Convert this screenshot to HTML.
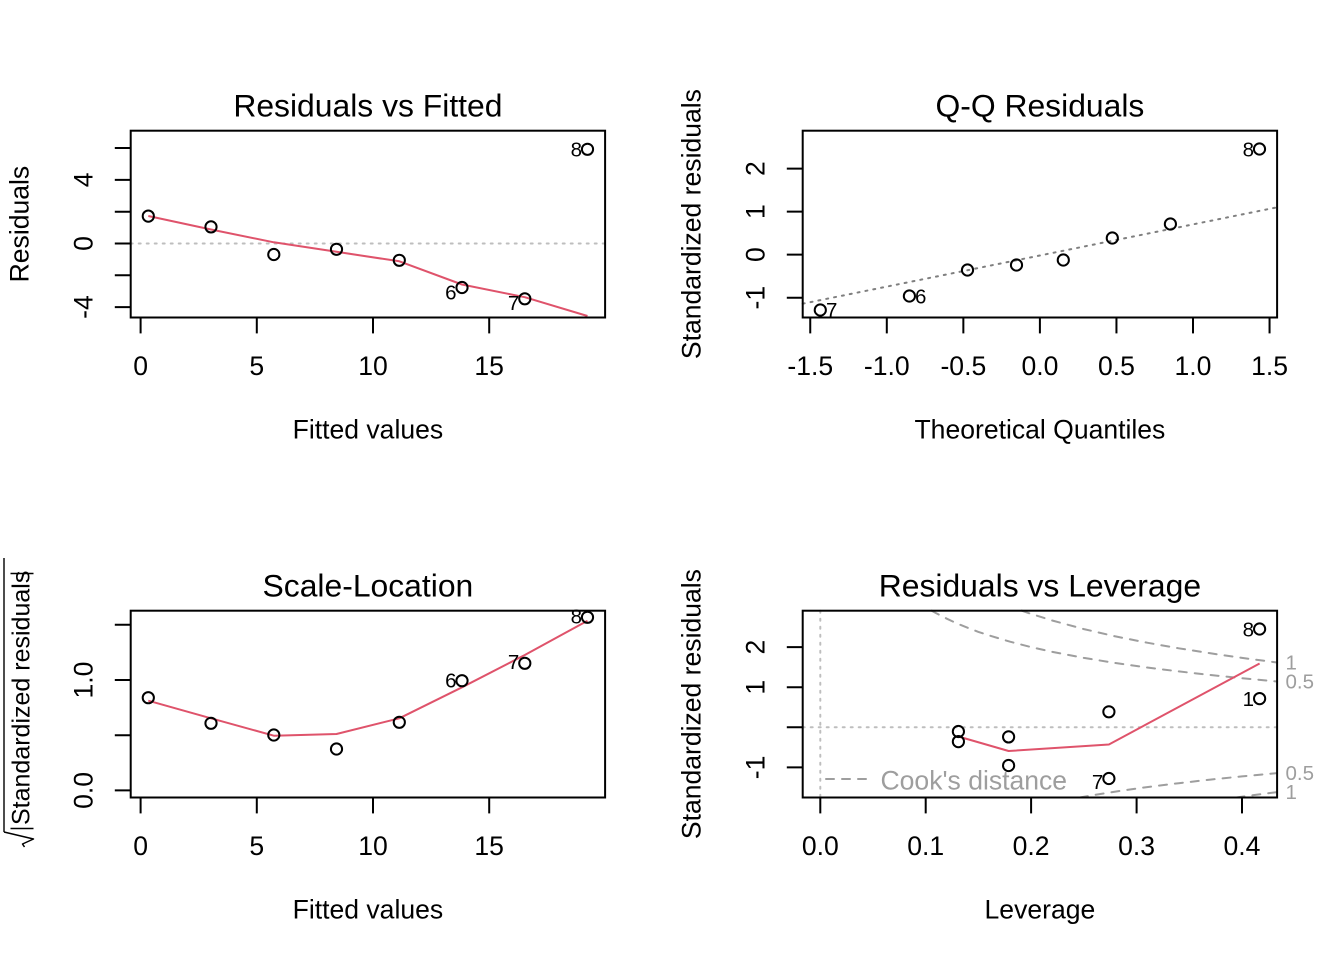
<!DOCTYPE html>
<html><head><meta charset="utf-8">
<style>
html,body{margin:0;padding:0;background:#fff;}
svg{display:block;}
text{font-family:"Liberation Sans",Arial,Helvetica,sans-serif;fill:#000;}
.ax{font-size:26.56px;}
.ttl{font-size:31.87px;}
.id{font-size:20.5px;}
.box{fill:none;stroke:#000;stroke-width:2;}
.tk{stroke:#000;stroke-width:2;}
.pt{fill:none;stroke:#000;stroke-width:2;}
.red{fill:none;stroke:#DF536B;stroke-width:2;stroke-linejoin:round;}
.dot{fill:none;stroke:#BEBEBE;stroke-width:2;stroke-dasharray:2 6;stroke-linecap:round;}
.qq{fill:none;stroke:#7F7F7F;stroke-width:2;stroke-dasharray:2 6;stroke-linecap:round;}
.cook{fill:none;stroke:#9E9E9E;stroke-width:2;stroke-dasharray:8 8;stroke-linecap:round;}
.gr{fill:#9E9E9E;}
</style>
</head><body>
<svg width="1344" height="960" viewBox="0 0 1344 960" xmlns="http://www.w3.org/2000/svg">
<rect width="1344" height="960" fill="#fff"/>

<!-- ================= Panel 1: Residuals vs Fitted ================= -->
<text class="ttl" x="367.9" y="116.4" text-anchor="middle">Residuals vs Fitted</text>
<line class="dot" x1="130.7" y1="243.5" x2="605.1" y2="243.5"/>
<polyline class="red" points="148.3,216 211,229.5 273.8,242.3 336.5,251.8 399.3,261.3 462,284.5 524.8,297.2 587.5,316"/>
<circle class="pt" cx="148.3" cy="216.1" r="5.6"/>
<circle class="pt" cx="211" cy="226.9" r="5.6"/>
<circle class="pt" cx="273.8" cy="254.5" r="5.6"/>
<circle class="pt" cx="336.5" cy="249.3" r="5.6"/>
<circle class="pt" cx="399.3" cy="260.3" r="5.6"/>
<circle class="pt" cx="462" cy="287.5" r="5.6"/>
<circle class="pt" cx="524.8" cy="298.8" r="5.6"/>
<circle class="pt" cx="587.5" cy="149.3" r="5.6"/>
<text class="id" x="582" y="156.6" text-anchor="end">8</text>
<text class="id" x="456.5" y="299.6" text-anchor="end">6</text>
<text class="id" x="519.3" y="310" text-anchor="end">7</text>
<rect class="box" x="130.7" y="130.7" width="474.4" height="186.8"/>
<!-- x axis -->
<line class="tk" x1="140.6" y1="317.5" x2="140.6" y2="333.4"/>
<line class="tk" x1="256.8" y1="317.5" x2="256.8" y2="333.4"/>
<line class="tk" x1="373" y1="317.5" x2="373" y2="333.4"/>
<line class="tk" x1="489.2" y1="317.5" x2="489.2" y2="333.4"/>
<text class="ax" x="140.6" y="374.9" text-anchor="middle">0</text>
<text class="ax" x="256.8" y="374.9" text-anchor="middle">5</text>
<text class="ax" x="373" y="374.9" text-anchor="middle">10</text>
<text class="ax" x="489.2" y="374.9" text-anchor="middle">15</text>
<text class="ax" x="367.9" y="438.6" text-anchor="middle">Fitted values</text>
<!-- y axis -->
<line class="tk" x1="130.7" y1="307.1" x2="114.8" y2="307.1"/>
<line class="tk" x1="130.7" y1="275.3" x2="114.8" y2="275.3"/>
<line class="tk" x1="130.7" y1="243.5" x2="114.8" y2="243.5"/>
<line class="tk" x1="130.7" y1="211.7" x2="114.8" y2="211.7"/>
<line class="tk" x1="130.7" y1="179.9" x2="114.8" y2="179.9"/>
<line class="tk" x1="130.7" y1="148.0" x2="114.8" y2="148.0"/>
<text class="ax" transform="translate(92.5,307.1) rotate(-90)" text-anchor="middle">-4</text>
<text class="ax" transform="translate(92.5,243.5) rotate(-90)" text-anchor="middle">0</text>
<text class="ax" transform="translate(92.5,179.9) rotate(-90)" text-anchor="middle">4</text>
<text class="ax" transform="translate(28.7,224.1) rotate(-90)" text-anchor="middle">Residuals</text>

<!-- ================= Panel 2: Q-Q Residuals ================= -->
<text class="ttl" x="1039.9" y="116.4" text-anchor="middle">Q-Q Residuals</text>
<line class="qq" x1="802.7" y1="303.7" x2="1277.1" y2="207.3"/>
<circle class="pt" cx="820.3" cy="310" r="5.6"/>
<circle class="pt" cx="909.4" cy="296" r="5.6"/>
<circle class="pt" cx="967.5" cy="270" r="5.6"/>
<circle class="pt" cx="1016.5" cy="265" r="5.6"/>
<circle class="pt" cx="1063.3" cy="260" r="5.6"/>
<circle class="pt" cx="1112.3" cy="238" r="5.6"/>
<circle class="pt" cx="1170.4" cy="224" r="5.6"/>
<circle class="pt" cx="1259.5" cy="149" r="5.6"/>
<text class="id" x="1254" y="156.3" text-anchor="end">8</text>
<text class="id" x="915" y="303.3">6</text>
<text class="id" x="826" y="316.8">7</text>
<rect class="box" x="802.7" y="130.7" width="474.4" height="186.8"/>
<line class="tk" x1="810.25" y1="317.5" x2="810.25" y2="333.4"/>
<line class="tk" x1="886.8" y1="317.5" x2="886.8" y2="333.4"/>
<line class="tk" x1="963.35" y1="317.5" x2="963.35" y2="333.4"/>
<line class="tk" x1="1039.9" y1="317.5" x2="1039.9" y2="333.4"/>
<line class="tk" x1="1116.45" y1="317.5" x2="1116.45" y2="333.4"/>
<line class="tk" x1="1193" y1="317.5" x2="1193" y2="333.4"/>
<line class="tk" x1="1269.55" y1="317.5" x2="1269.55" y2="333.4"/>
<text class="ax" x="810.25" y="374.9" text-anchor="middle">-1.5</text>
<text class="ax" x="886.8" y="374.9" text-anchor="middle">-1.0</text>
<text class="ax" x="963.35" y="374.9" text-anchor="middle">-0.5</text>
<text class="ax" x="1039.9" y="374.9" text-anchor="middle">0.0</text>
<text class="ax" x="1116.45" y="374.9" text-anchor="middle">0.5</text>
<text class="ax" x="1193" y="374.9" text-anchor="middle">1.0</text>
<text class="ax" x="1269.55" y="374.9" text-anchor="middle">1.5</text>
<text class="ax" x="1039.9" y="438.6" text-anchor="middle">Theoretical Quantiles</text>
<line class="tk" x1="802.7" y1="297.7" x2="786.8" y2="297.7"/>
<line class="tk" x1="802.7" y1="254.65" x2="786.8" y2="254.65"/>
<line class="tk" x1="802.7" y1="211.6" x2="786.8" y2="211.6"/>
<line class="tk" x1="802.7" y1="168.6" x2="786.8" y2="168.6"/>
<text class="ax" transform="translate(764.5,297.7) rotate(-90)" text-anchor="middle">-1</text>
<text class="ax" transform="translate(764.5,254.65) rotate(-90)" text-anchor="middle">0</text>
<text class="ax" transform="translate(764.5,211.6) rotate(-90)" text-anchor="middle">1</text>
<text class="ax" transform="translate(764.5,168.6) rotate(-90)" text-anchor="middle">2</text>
<text class="ax" transform="translate(700.7,224.1) rotate(-90)" text-anchor="middle">Standardized residuals</text>

<!-- ================= Panel 3: Scale-Location ================= -->
<text class="ttl" x="367.9" y="596.4" text-anchor="middle">Scale-Location</text>
<polyline class="red" points="148.3,700.7 211,718.3 273.8,735.7 336.5,734 399.3,718.3 462,687.3 524.8,655 587.5,620.7"/>
<circle class="pt" cx="148.3" cy="697.7" r="5.6"/>
<circle class="pt" cx="211" cy="723.3" r="5.6"/>
<circle class="pt" cx="273.8" cy="735" r="5.6"/>
<circle class="pt" cx="336.5" cy="749" r="5.6"/>
<circle class="pt" cx="399.3" cy="722.3" r="5.6"/>
<circle class="pt" cx="462" cy="680.7" r="5.6"/>
<circle class="pt" cx="524.8" cy="663.3" r="5.6"/>
<circle class="pt" cx="587.5" cy="617.3" r="5.6"/>
<text class="id" x="456.5" y="687.3" text-anchor="end">6</text>
<text class="id" x="519.3" y="669" text-anchor="end">7</text>
<text class="id" x="582" y="623.3" text-anchor="end">8</text>
<rect class="box" x="130.7" y="610.7" width="474.4" height="186.8"/>
<line class="tk" x1="140.6" y1="797.5" x2="140.6" y2="813.4"/>
<line class="tk" x1="256.8" y1="797.5" x2="256.8" y2="813.4"/>
<line class="tk" x1="373" y1="797.5" x2="373" y2="813.4"/>
<line class="tk" x1="489.2" y1="797.5" x2="489.2" y2="813.4"/>
<text class="ax" x="140.6" y="854.9" text-anchor="middle">0</text>
<text class="ax" x="256.8" y="854.9" text-anchor="middle">5</text>
<text class="ax" x="373" y="854.9" text-anchor="middle">10</text>
<text class="ax" x="489.2" y="854.9" text-anchor="middle">15</text>
<text class="ax" x="367.9" y="918.6" text-anchor="middle">Fitted values</text>
<line class="tk" x1="130.7" y1="790.4" x2="114.8" y2="790.4"/>
<line class="tk" x1="130.7" y1="735.2" x2="114.8" y2="735.2"/>
<line class="tk" x1="130.7" y1="680" x2="114.8" y2="680"/>
<line class="tk" x1="130.7" y1="624.8" x2="114.8" y2="624.8"/>
<text class="ax" transform="translate(92.5,790.4) rotate(-90)" text-anchor="middle">0.0</text>
<text class="ax" transform="translate(92.5,680) rotate(-90)" text-anchor="middle">1.0</text>
<!-- sqrt(|Standardized residuals|) label -->
<g transform="translate(29.5,826) rotate(-90)">
  <text x="1" y="0" style="font-size:25px">Standardized residuals</text>
  <line x1="-2.5" y1="-19" x2="-2.5" y2="4" stroke="#000" stroke-width="1.4"/>
  <line x1="252.5" y1="-19" x2="252.5" y2="4" stroke="#000" stroke-width="1.4"/>
  <line x1="-6" y1="-25.5" x2="268" y2="-25.5" stroke="#000" stroke-width="1.4"/>
  <polyline points="-6,-25.5 -13,4 -18,-7 -21,-5" fill="none" stroke="#000" stroke-width="1.5" stroke-linejoin="round"/>
</g>

<!-- ================= Panel 4: Residuals vs Leverage ================= -->
<text class="ttl" x="1039.9" y="596.4" text-anchor="middle">Residuals vs Leverage</text>
<line class="dot" x1="820.3" y1="610.7" x2="820.3" y2="797.5"/>
<line class="dot" x1="802.7" y1="727.3" x2="1277.1" y2="727.3"/>
<polyline class="cook" points="931.7,610.7 936.3,613.3 946.8,618.7 957.3,623.6 967.9,627.9 978.4,631.9 989.0,635.4 1010.1,641.7 1031.1,647.1 1052.2,651.8 1083.9,657.9 1115.5,663.0 1147.1,667.5 1178.7,671.4 1210.4,675.0 1242.0,678.2 1277.1,681.5"/>
<polyline class="cook" points="1021.7,610.7 1031.1,613.9 1052.2,620.5 1083.9,629.1 1115.5,636.4 1147.1,642.7 1178.7,648.3 1210.4,653.3 1242.0,657.9 1277.1,662.5"/>
<polyline class="cook" points="1079.9,797.5 1094.4,794.9 1115.5,791.6 1147.1,787.1 1178.7,783.2 1210.4,779.6 1242.0,776.4 1277.1,773.1"/>
<polyline class="cook" points="1236.5,797.5 1252.5,795.3 1277.1,792.1"/>
<polyline class="red" points="958.4,736.5 1008.6,751 1108.9,744.5 1259.6,663.5"/>
<circle class="pt" cx="958.4" cy="731.5" r="5.6"/>
<circle class="pt" cx="958.4" cy="741.6" r="5.6"/>
<circle class="pt" cx="1008.6" cy="736.9" r="5.6"/>
<circle class="pt" cx="1008.6" cy="765.5" r="5.6"/>
<circle class="pt" cx="1108.9" cy="711.8" r="5.6"/>
<circle class="pt" cx="1108.9" cy="778.5" r="5.6"/>
<circle class="pt" cx="1259.6" cy="629" r="5.6"/>
<circle class="pt" cx="1259.6" cy="698.6" r="5.6"/>
<text class="id" x="1254" y="636.3" text-anchor="end">8</text>
<text class="id" x="1254" y="705.9" text-anchor="end">1</text>
<text class="id" x="1103.3" y="788.8" text-anchor="end">7</text>
<!-- legend -->
<line class="cook" x1="826" y1="779" x2="874" y2="779"/>
<text class="ax gr" x="880.5" y="789.5">Cook's distance</text>
<rect class="box" x="802.7" y="610.7" width="474.4" height="186.8"/>
<!-- right cook labels -->
<text class="id gr" x="1285.5" y="669.6">1</text>
<text class="id gr" x="1285.5" y="688.6">0.5</text>
<text class="id gr" x="1285.5" y="780.2">0.5</text>
<text class="id gr" x="1285.5" y="799.2">1</text>
<line class="tk" x1="820.3" y1="797.5" x2="820.3" y2="813.4"/>
<line class="tk" x1="925.7" y1="797.5" x2="925.7" y2="813.4"/>
<line class="tk" x1="1031.1" y1="797.5" x2="1031.1" y2="813.4"/>
<line class="tk" x1="1136.6" y1="797.5" x2="1136.6" y2="813.4"/>
<line class="tk" x1="1242.0" y1="797.5" x2="1242.0" y2="813.4"/>
<text class="ax" x="820.3" y="854.9" text-anchor="middle">0.0</text>
<text class="ax" x="925.7" y="854.9" text-anchor="middle">0.1</text>
<text class="ax" x="1031.1" y="854.9" text-anchor="middle">0.2</text>
<text class="ax" x="1136.6" y="854.9" text-anchor="middle">0.3</text>
<text class="ax" x="1242.0" y="854.9" text-anchor="middle">0.4</text>
<text class="ax" x="1039.9" y="918.6" text-anchor="middle">Leverage</text>
<line class="tk" x1="802.7" y1="767.4" x2="786.8" y2="767.4"/>
<line class="tk" x1="802.7" y1="727.3" x2="786.8" y2="727.3"/>
<line class="tk" x1="802.7" y1="687.2" x2="786.8" y2="687.2"/>
<line class="tk" x1="802.7" y1="647.1" x2="786.8" y2="647.1"/>
<text class="ax" transform="translate(764.5,767.4) rotate(-90)" text-anchor="middle">-1</text>
<text class="ax" transform="translate(764.5,687.2) rotate(-90)" text-anchor="middle">1</text>
<text class="ax" transform="translate(764.5,647.1) rotate(-90)" text-anchor="middle">2</text>
<text class="ax" transform="translate(700.7,704.1) rotate(-90)" text-anchor="middle">Standardized residuals</text>
</svg>
</body></html>
